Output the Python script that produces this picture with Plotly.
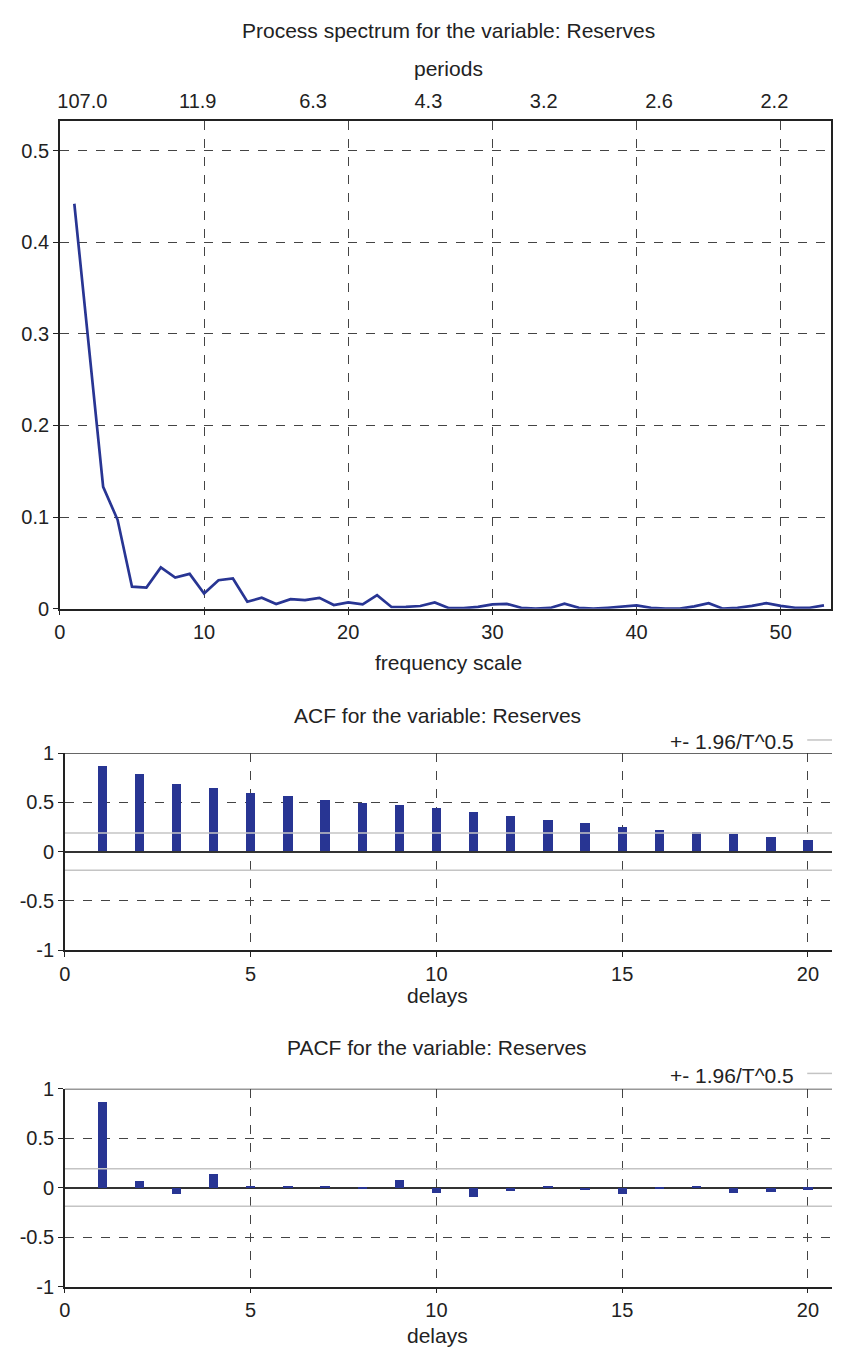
import plotly.graph_objects as go

# ---------------- data ----------------
freq = list(range(1, 54))
spectrum = [0.442, 0.290, 0.133, 0.097, 0.024, 0.023, 0.045, 0.034, 0.038, 0.0165,
            0.031, 0.033, 0.0075, 0.012, 0.005, 0.0104, 0.0093, 0.0118, 0.004, 0.0068,
            0.0046, 0.0147, 0.0018, 0.002, 0.0029, 0.0068, 0.0005, 0.0005, 0.002, 0.0046,
            0.0052, 0.001, 0.0, 0.0008, 0.0054, 0.001, 0.0, 0.001, 0.002, 0.0035,
            0.001, 0.0, 0.0, 0.0025, 0.006, 0.0, 0.001, 0.003, 0.006, 0.003,
            0.001, 0.001, 0.0035]
period_freq = [1, 9, 17, 25, 33, 41, 49]
period_labels = ["107.0", "11.9", "6.3", "4.3", "3.2", "2.6", "2.2"]

lags = list(range(1, 21))
acf = [0.87, 0.783, 0.69, 0.643, 0.597, 0.56, 0.523, 0.49, 0.473, 0.443,
       0.403, 0.357, 0.32, 0.287, 0.25, 0.22, 0.20, 0.173, 0.143, 0.12]
pacf = [0.873, 0.07, -0.063, 0.143, 0.013, 0.017, 0.02, -0.007, 0.08, -0.047,
        -0.09, -0.033, 0.01, -0.023, -0.06, -0.003, 0.02, -0.047, -0.037, -0.017]
T = 107
band = 1.96 / T ** 0.5

# ---------------- style / geometry ----------------
# the page body has an 8px margin; size the figure so the page is exactly 841x1357
OFF = 8
W, H = 841 - 2 * OFF, 1357 - 2 * OFF
FONT = "Liberation Sans, Arial, sans-serif"
TXT = "#222222"
BLUE = "#283593"
GRID = "#444444"
FS = 20
FT = 21

def px_x(rx):
    return (rx - OFF) / W

def px_y(ry):
    return 1 - (ry - OFF) / H

fig = go.Figure()

# spectrum
fig.add_trace(go.Scatter(x=freq, y=spectrum, mode="lines",
                         line=dict(color=BLUE, width=2.7), xaxis="x", yaxis="y",
                         showlegend=False, hoverinfo="x+y"))
# invisible trace to activate the top (periods) axis
fig.add_trace(go.Scatter(x=[freq[0]], y=[spectrum[0]], mode="markers",
                         marker=dict(opacity=0), xaxis="x2", yaxis="y",
                         showlegend=False, hoverinfo="skip"))

# spectrum plot right edge (clipped to figure width)
SP_R = min(837, OFF + W - 1)
SP_XMAX = (SP_R - 54.3) / 14.54
ACF_XMAX = (OFF + W - 59.3) / 37.47
XR_ACF = [0, ACF_XMAX]

# ACF
fig.add_trace(go.Bar(x=lags, y=acf, width=0.25, marker=dict(color=BLUE, line=dict(width=0)),
                     xaxis="x3", yaxis="y3", showlegend=False))
for s in (1, -1):
    fig.add_trace(go.Scatter(x=XR_ACF, y=[s * band] * 2, mode="lines",
                             line=dict(color="#c4c4c4", width=1.5),
                             xaxis="x3", yaxis="y3", showlegend=False, hoverinfo="skip"))
# PACF
fig.add_trace(go.Bar(x=lags, y=pacf, width=0.25, marker=dict(color=BLUE, line=dict(width=0)),
                     xaxis="x4", yaxis="y4", showlegend=False))
for s in (1, -1):
    fig.add_trace(go.Scatter(x=XR_ACF, y=[s * band] * 2, mode="lines",
                             line=dict(color="#c4c4c4", width=1.5),
                             xaxis="x4", yaxis="y4", showlegend=False, hoverinfo="skip"))

tickfont = dict(family=FONT, size=FS, color=TXT)

common_x = dict(showline=True, linecolor="#222", linewidth=1.5, ticks="outside",
                ticklen=5, tickcolor="#222", tickfont=tickfont, zeroline=False,
                showgrid=True, gridcolor=GRID, griddash="dash", gridwidth=1)

zl = {"zeroline": True, "zerolinecolor": "#333", "zerolinewidth": 1.5}

fig.update_layout(
    width=W, height=H,
    margin=dict(l=0, r=0, t=0, b=0),
    paper_bgcolor="white", plot_bgcolor="white",
    bargap=0,
    xaxis=dict(domain=[px_x(54.3), px_x(SP_R)], range=[0, SP_XMAX], tickvals=[0, 10, 20, 30, 40, 50],
               mirror=True, anchor="y", **common_x),
    xaxis2=dict(overlaying="x", side="top", range=[0, SP_XMAX], anchor="y",
                tickvals=[f + 0.56 for f in period_freq], ticktext=period_labels,
                ticks="outside", ticklen=4, tickcolor="rgba(0,0,0,0)",
                showgrid=False, showline=False, zeroline=False, tickfont=tickfont),
    yaxis=dict(domain=[px_y(607.5), px_y(112)], range=[0, 0.532],
               tickvals=[0, 0.1, 0.2, 0.3, 0.4, 0.5], ticktext=["0", "0.1", "0.2", "0.3", "0.4", "0.5"],
               mirror=True, anchor="x", **common_x),
    xaxis3=dict(domain=[px_x(59.3), 1.0], range=XR_ACF, tickvals=[0, 5, 10, 15, 20],
                anchor="y3", **common_x),
    yaxis3=dict(domain=[px_y(954.7), px_y(754.5)], range=[-1, 1],
                tickvals=[-1, -0.5, 0, 0.5, 1], ticktext=["-1", "-0.5", "0", "0.5", "1"],
                anchor="x3", **{**common_x, **zl}),
    xaxis4=dict(domain=[px_x(59.3), 1.0], range=XR_ACF, tickvals=[0, 5, 10, 15, 20],
                anchor="y4", **common_x),
    yaxis4=dict(domain=[px_y(1296.7), px_y(1095.5)], range=[-1, 1],
                tickvals=[-1, -0.5, 0, 0.5, 1], ticktext=["-1", "-0.5", "0", "0.5", "1"],
                anchor="x4", **{**common_x, **zl}),
)

# solid top border lines for ACF / PACF at y = 1
for ax in ("3", "4"):
    fig.add_shape(type="line", xref="x%s domain" % ax, yref="y" + ax,
                  x0=0, x1=1, y0=1, y1=1, line=dict(color="#333", width=1.5))

def ann(text, rx, ry, xanchor="center", size=FT):
    fig.add_annotation(text=text, x=px_x(rx), y=px_y(ry), xref="paper", yref="paper",
                       xanchor=xanchor, yanchor="middle", showarrow=False,
                       font=dict(family=FONT, size=size, color=TXT))

ann("Process spectrum for the variable: Reserves", 446, 20)
ann("periods", 446, 58)
ann("frequency scale", 446, 662)
ann("ACF for the variable: Reserves", 435, 716)
ann("delays", 435, 1001)
ann("PACF for the variable: Reserves", 435, 1054)
ann("delays", 435, 1346)

# legend labels for the confidence band
for ry in (743, 1082):
    ann("+- 1.96/T^0.5", 797, ry, xanchor="right")
    fig.add_shape(type="line", xref="paper", yref="paper",
                  x0=px_x(808), x1=1.0, y0=px_y(ry - 2), y1=px_y(ry - 2),
                  line=dict(color="#c4c4c4", width=1.5))

fig.write_html("out.html")
